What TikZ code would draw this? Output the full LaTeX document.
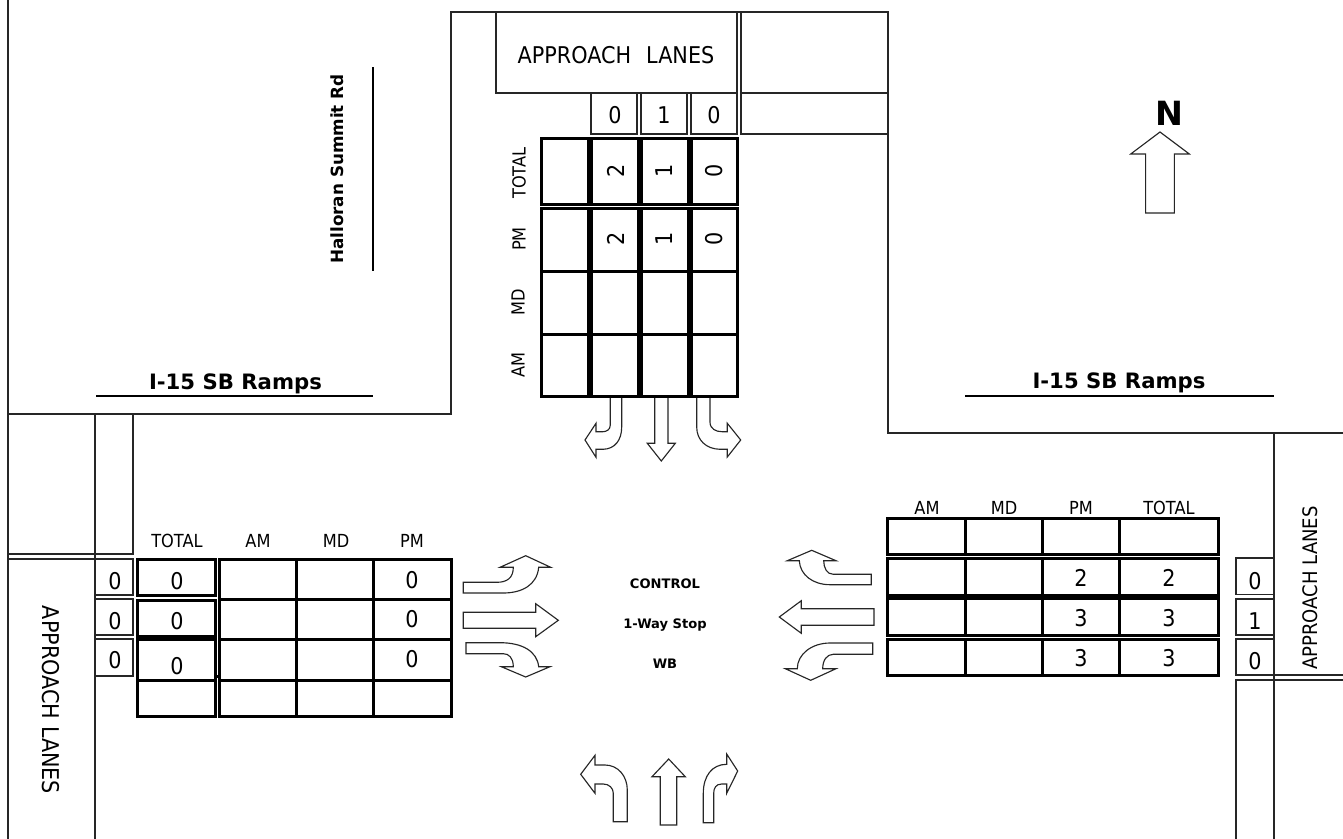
\documentclass[tikz,border=0pt]{standalone}
\usepackage{fontspec}
\setmainfont[FakeStretch=0.9]{DejaVu Sans}
\newfontfamily\boldfam{DejaVu Sans Bold}
\tikzset{
  thinline/.style={draw=black!85,line width=0.8pt},
  thickbox/.style={draw=black,line width=2.25pt},
  arrowline/.style={draw=black!85,line width=0.85pt,fill=white,line join=miter},
  nameline/.style={draw=black,line width=2.2pt},
  biglabel/.style={inner sep=0pt,font=\fontsize{17.3}{20}\selectfont},
  smalllabel/.style={inner sep=0pt,font=\fontsize{13.5}{16}\selectfont},
  lanelabelw/.style={inner sep=0pt,font=\fontsize{17.3}{20}\selectfont},
  lanelabele/.style={inner sep=0pt,font=\fontsize{15}{18}\selectfont},
  roadlabel/.style={inner sep=0pt,font=\boldfam\fontsize{15.9}{18}\selectfont},
  sidelabel/.style={inner sep=0pt,font=\boldfam\fontsize{12.6}{15}\selectfont},
  ctrllabel/.style={inner sep=0pt,font=\boldfam\fontsize{9.8}{12}\selectfont},
  north/.style={inner sep=0pt,font=\boldfam\fontsize{25}{30}\selectfont},
}
\begin{document}
\begin{tikzpicture}[x=0.75pt,y=-0.75pt]
\useasboundingbox (0,0) rectangle (1343,839);
% roads
\draw[thinline] (8,0) -- (8,839);
\draw[thinline] (8,414) -- (451,414) -- (451,12) -- (888,12) -- (888,433) -- (1343,433);
\draw[thinline] (496,12) -- (496,93) -- (737,93) -- (737,12);
\draw[thinline] (741,12) rectangle (888,93);
\draw[thinline] (741,93) -- (741,134) -- (888,134);
\draw[thinline] (591,93) rectangle (637,134);
\draw[thinline] (641,93) rectangle (687,134);
\draw[thinline] (691,93) rectangle (737,134);
\draw[thinline] (95,414) -- (95,839);
\draw[thinline] (133,414) -- (133,554) -- (8,554);
\draw[thinline] (8,559) -- (133,559);
\draw[thinline] (95,559) rectangle (133,595);
\draw[thinline] (95,599) rectangle (133,635);
\draw[thinline] (95,639) rectangle (133,676);
\draw[thinline] (1274,433) -- (1274,839);
\draw[thinline] (1274,558) -- (1236,558) -- (1236,594.5) -- (1274,594.5);
\draw[thinline] (1274,599) -- (1236,599) -- (1236,635) -- (1274,635);
\draw[thinline] (1274,639) -- (1236,639) -- (1236,675) -- (1343,675);
\draw[thinline] (1343,680) -- (1236,680) -- (1236,839);
% road name lines
\draw[nameline] (373,67) -- (373,271);
\draw[nameline] (96,396) -- (373,396);
\draw[nameline] (965,396) -- (1274,396);
% top table
\foreach \xa/\xb in {541/588,591/638,641/688,691/737}{
  \draw[thickbox] (\xa,138) rectangle (\xb,204);
  \draw[thickbox] (\xa,208) rectangle (\xb,396);
  \draw[thickbox] (\xa,271) -- (\xb,271);
  \draw[thickbox] (\xa,334) -- (\xb,334);
}
% left table
\draw[thickbox] (137,559) rectangle (215,595);
\draw[thickbox] (137,600) rectangle (215,636);
\draw[thickbox] (137,639.5) rectangle (215,716);
\draw[thickbox] (137,680) -- (215,680);
\draw[thickbox] (219,559) rectangle (451,716);
\foreach \yy in {599,639,680}{\draw[thickbox] (219,\yy) -- (451,\yy);}
\foreach \xx in {296.5,373.5}{\draw[thickbox] (\xx,559) -- (\xx,716);}
% right table
\foreach \ya/\yb in {518/554.5,558.5/595,598.5/635,639/675.5}{
  \draw[thickbox] (887.5,\ya) rectangle (1218.5,\yb);
  \foreach \xx in {965,1042,1119}{\draw[thickbox] (\xx,\ya) -- (\xx,\yb);}
}
% small marks
\fill[black] (637,382.5) rectangle (640,385.5);
\fill[black] (216,674.5) rectangle (219,677.5);
% arrows: top (southbound)
\draw[arrowline] (610.3,398) -- (610.3,425) .. controls (610.3,430) and (606,431.7) .. (603,431.7) -- (596,431.7) -- (596,423.3) -- (585,440) -- (596,457.3) -- (596,449.3) -- (603,449.3) .. controls (615,449) and (621.7,440) .. (621.7,427) -- (621.7,398);
\draw[arrowline] (654.7,398) -- (654.7,443.3) -- (647.3,443.3) -- (661.3,461) -- (675.3,443.3) -- (668,443.3) -- (668,398);
\draw[arrowline] (710,398) -- (710,422) .. controls (710,429) and (716,431.7) .. (722,431.7) -- (727.3,431.7) -- (727.3,423.3) -- (740.7,440) -- (727.3,457) -- (727.3,449.3) -- (720,449.3) .. controls (706,449) and (696.7,440) .. (696.7,427) -- (696.7,398);
% arrows: left (eastbound)
\draw[arrowline] (463.3,582.3) -- (496.7,582.3) .. controls (507,582.3) and (513.3,578) .. (513.3,567.3) -- (500,567.3) -- (525.7,555.7) -- (550.7,567.3) -- (538.7,567.3) .. controls (537,585) and (522,593) .. (503.3,593) -- (463.3,593) -- cycle;
\draw[arrowline] (463.3,612.3) -- (535.7,612.3) -- (535.7,603.7) -- (558.3,620.3) -- (535.7,636.7) -- (535.7,628.3) -- (463.3,628.3) -- cycle;
\draw[arrowline] (466,642.7) -- (500,642.7) .. controls (522,642.7) and (537,651) .. (538.7,666.7) -- (550,666.7) -- (525.7,677) -- (501.3,666.7) -- (513.3,666.7) .. controls (513.3,658) and (509,653.7) .. (503.3,653.7) -- (466,653.7) -- cycle;
% arrows: right (westbound)
\draw[arrowline] (871.3,574.3) -- (833.3,574.3) .. controls (827,574.3) and (823.7,568) .. (823.7,560.7) -- (836,560.7) -- (811.7,550.3) -- (787.3,560.7) -- (799.3,560.7) .. controls (800,575) and (813,584.7) .. (830,584.7) -- (871.3,584.7) -- cycle;
\draw[arrowline] (874,608.7) -- (801.3,608.7) -- (801.3,600.7) -- (779.3,617) -- (801.3,633.3) -- (801.3,625.3) -- (874,625.3) -- cycle;
\draw[arrowline] (872.7,643) -- (830,643) .. controls (812,643) and (797.3,654) .. (797.3,668.7) -- (785.3,668.7) -- (810.7,680.3) -- (836,668.7) -- (822.7,668.7) .. controls (822.7,660) and (827,654.3) .. (833.3,654.3) -- (872.7,654.3) -- cycle;
% arrows: bottom (northbound)
\draw[arrowline] (627.3,821.7) -- (613.3,821.7) -- (613.3,793.3) .. controls (613.3,788) and (609,784) .. (603.3,784) -- (595,784) -- (595,793.3) -- (580.7,774.3) -- (595,755.3) -- (595,765) -- (605,765) .. controls (618,765) and (627.3,776) .. (627.3,790) -- cycle;
\draw[arrowline] (660.3,825) -- (660.3,776.7) -- (652,776.7) -- (668.7,759) -- (685.3,776.7) -- (676.7,776.7) -- (676.7,825) -- cycle;
\draw[arrowline] (703.3,822.7) -- (703.3,793.3) .. controls (703.3,776) and (712,764.3) .. (726.7,764.3) -- (726.7,754) -- (737.7,771) -- (726.7,793.3) -- (726.7,784) -- (721.7,784) .. controls (716,784) and (713.7,788) .. (713.7,793.3) -- (713.7,822.7) -- cycle;
% north arrow
\draw[arrowline] (1160,132) -- (1189.3,154) -- (1174.4,154) -- (1174.4,213) -- (1145.6,213) -- (1145.6,154) -- (1130.7,154) -- cycle;
\node[north] (northmark) at (1169,113) {N};
% road labels
\node[sidelabel,rotate=90] (halloran) at (337,169) {Halloran Summit Rd};
\node[roadlabel] (rampw) at (235.5,384) {I-15 SB Ramps};
\node[roadlabel] (rampe) at (1119,383) {I-15 SB Ramps};
% approach lanes
\node[biglabel] (apn) at (616,55) {APPROACH\hspace{0.65em}LANES};
\node[lanelabelw,rotate=-90] (apw) at (51,700) {APPROACH LANES};
\node[lanelabele,rotate=90] (ape) at (1310,588) {APPROACH LANES};
% top lanes
\node[biglabel] (ln1) at (615,115) {0};
\node[biglabel] (ln2) at (664,115) {1};
\node[biglabel] (ln3) at (714,115) {0};
% top table labels
\node[smalllabel,rotate=90] (tt) at (519,173) {TOTAL};
\node[smalllabel,rotate=90] (tp) at (519,239) {PM};
\node[smalllabel,rotate=90] (tm) at (518,302) {MD};
\node[smalllabel,rotate=90] (ta) at (518,365) {AM};
\node[biglabel,rotate=90] (t1) at (616,171) {2};
\node[biglabel,rotate=90] (t2) at (664,171) {1};
\node[biglabel,rotate=90] (t3) at (714,171) {0};
\node[biglabel,rotate=90] (p1) at (616,239) {2};
\node[biglabel,rotate=90] (p2) at (664,239) {1};
\node[biglabel,rotate=90] (p3) at (714,239) {0};
% left table labels
\node[smalllabel] (lt) at (177,541) {TOTAL};
\node[smalllabel] (la) at (258,541) {AM};
\node[smalllabel] (lm) at (336,541) {MD};
\node[smalllabel] (lp) at (412,541) {PM};
\node[biglabel] (lv1) at (177,581) {0};
\node[biglabel] (lv2) at (177,621) {0};
\node[biglabel] (lv3) at (177,666) {0};
\node[biglabel] (lp1) at (412,580) {0};
\node[biglabel] (lp2) at (412,619) {0};
\node[biglabel] (lp3) at (412,659) {0};
\node[biglabel] (wl1) at (115,581) {0};
\node[biglabel] (wl2) at (115,621) {0};
\node[biglabel] (wl3) at (115,660) {0};
% right table labels
\node[smalllabel] (ra) at (927,508) {AM};
\node[smalllabel] (rm) at (1004,508) {MD};
\node[smalllabel] (rp) at (1081,508) {PM};
\node[smalllabel] (rt) at (1169,508) {TOTAL};
\node[biglabel] (rp1) at (1081,578) {2};
\node[biglabel] (rt1) at (1169,578) {2};
\node[biglabel] (rp2) at (1081,618) {3};
\node[biglabel] (rt2) at (1169,618) {3};
\node[biglabel] (rp3) at (1081,658) {3};
\node[biglabel] (rt3) at (1169,658) {3};
\node[biglabel] (el1) at (1255,581) {0};
\node[biglabel] (el2) at (1255,621) {1};
\node[biglabel] (el3) at (1255,661) {0};
% control
\node[ctrllabel] (c1) at (665,584) {CONTROL};
\node[ctrllabel] (c2) at (665,625) {1-Way Stop};
\node[ctrllabel] (c3) at (665,664) {WB};
\end{tikzpicture}
\end{document}
